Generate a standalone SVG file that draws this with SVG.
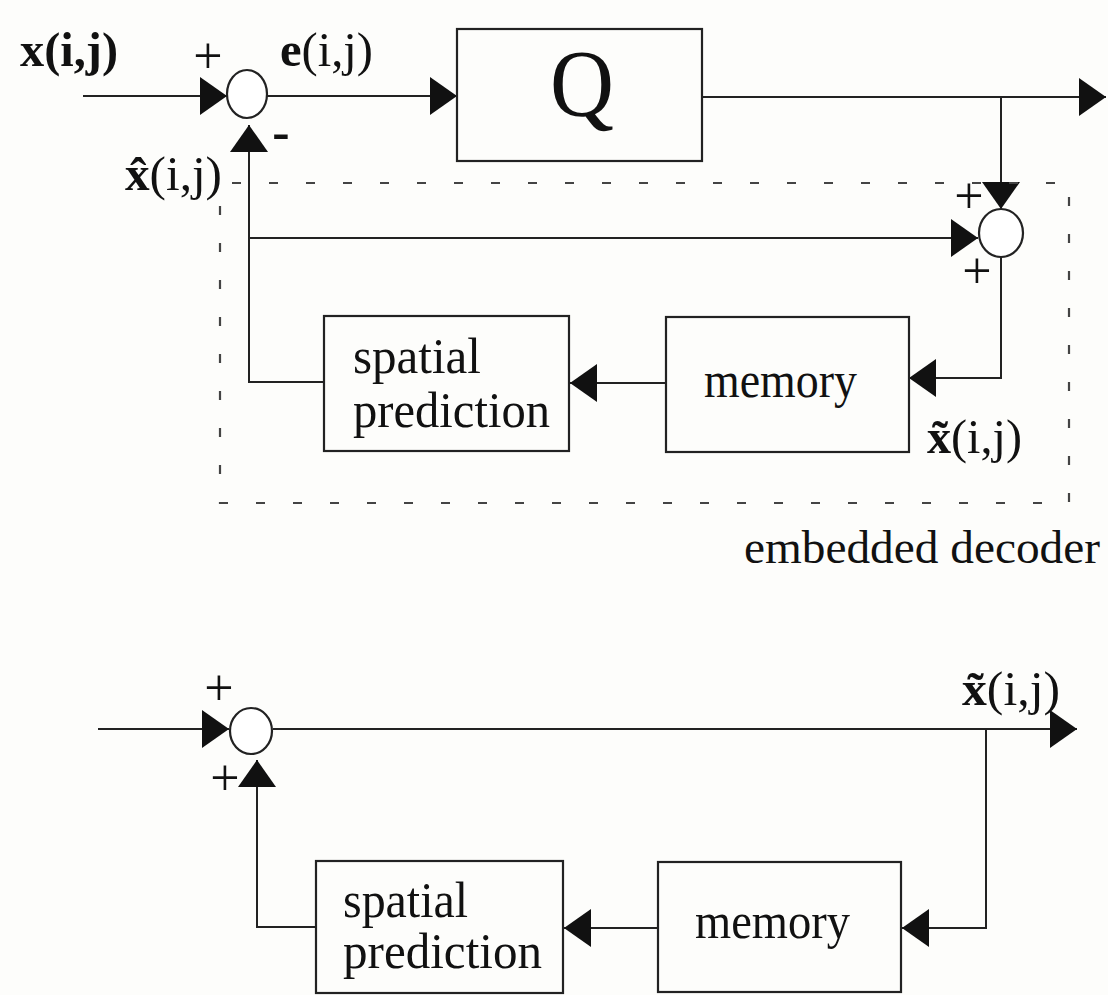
<svg xmlns="http://www.w3.org/2000/svg" width="1108" height="995" viewBox="0 0 1108 995">
<defs>
<marker id="arr" markerUnits="userSpaceOnUse" markerWidth="28" markerHeight="38" refX="27" refY="19" orient="auto" viewBox="0 0 28 38">
<path d="M0,0 L27,19 L0,38 z" fill="#111"/>
</marker>
<style>
.box{fill:none;stroke:#222;stroke-width:2.2}
.sum{fill:#fff;stroke:#222;stroke-width:2.2}
.wire{fill:none;stroke:#222;stroke-width:2;marker-end:url(#arr)}
.dash{fill:none;stroke:#444;stroke-width:2.2;stroke-dasharray:9 28}
.t{font-family:"Liberation Serif","Times New Roman",serif;fill:#111}
.lbl{font-size:48px}
.bx{font-size:50px}
.sg{font-size:52px;text-anchor:middle}
</style>
</defs>
<rect width="1108" height="995" fill="#fdfdfb"/>

<g id="connectors">
<path class="wire" d="M83,96 H227"/>
<path class="wire" d="M267,96 H457"/>
<path class="wire" d="M702,97 H1106"/>
<path class="wire" d="M1001,97 V209"/>
<path class="wire" d="M250,238 H978"/>
<path class="wire" d="M1001,257 V378 H909"/>
<path class="wire" d="M666,383 H570"/>
<path class="wire" d="M324,382 H249 V125"/>
<path class="wire" d="M98,729 H229"/>
<path class="wire" d="M273,729 H1077"/>
<path class="wire" d="M986,729 V928 H902"/>
<path class="wire" d="M658,928 H564"/>
<path class="wire" d="M316,927 H257 V760"/>
</g>

<g id="embedded-decoder">
<path class="dash" d="M232,183 H1069 V503 H220 V200"/>
<text class="t" x="744" y="563" font-size="47" textLength="356" lengthAdjust="spacingAndGlyphs">embedded decoder</text>
</g>

<g id="sum1">
<ellipse class="sum" cx="247" cy="94" rx="20" ry="24"/>
<text class="t sg" x="208" y="73">+</text>
<text class="t sg" x="281" y="149" font-weight="bold">-</text>
</g>

<g id="quantizer">
<rect class="box" x="457" y="29" width="245" height="132"/>
<text class="t" x="582" y="116" font-size="96" text-anchor="middle" textLength="64" lengthAdjust="spacingAndGlyphs">Q</text>
</g>

<g id="sum2">
<ellipse class="sum" cx="1001" cy="233" rx="22" ry="24"/>
<text class="t sg" x="969" y="213">+</text>
<text class="t sg" x="977" y="288">+</text>
</g>

<g id="spatial1">
<rect class="box" x="324" y="316" width="245" height="135"/>
<text class="t bx" x="353" y="373" textLength="128" lengthAdjust="spacingAndGlyphs">spatial</text>
<text class="t bx" x="353" y="427" textLength="197" lengthAdjust="spacingAndGlyphs">prediction</text>
</g>

<g id="memory1">
<rect class="box" x="666" y="317" width="243" height="135"/>
<text class="t bx" x="704" y="397" textLength="153" lengthAdjust="spacingAndGlyphs">memory</text>
</g>

<g id="labels-top">
<text class="t lbl" x="20" y="66" font-weight="bold" textLength="98" lengthAdjust="spacingAndGlyphs">x(i,j)</text>
<text class="t lbl" x="280" y="66" textLength="93" lengthAdjust="spacingAndGlyphs"><tspan font-weight="bold">e</tspan>(i,j)</text>
<text class="t lbl" x="125" y="190" textLength="97" lengthAdjust="spacingAndGlyphs"><tspan font-weight="bold">x̂</tspan>(i,j)</text>
<text class="t lbl" x="927" y="453" textLength="95" lengthAdjust="spacingAndGlyphs"><tspan font-weight="bold">x̃</tspan>(i,j)</text>
</g>

<g id="sum3">
<ellipse class="sum" cx="251" cy="731" rx="21" ry="23"/>
<text class="t sg" x="219" y="705">+</text>
<text class="t sg" x="225" y="795">+</text>
</g>

<g id="spatial2">
<rect class="box" x="316" y="861" width="247" height="132"/>
<text class="t bx" x="343" y="917" textLength="125" lengthAdjust="spacingAndGlyphs">spatial</text>
<text class="t bx" x="343" y="968" textLength="199" lengthAdjust="spacingAndGlyphs">prediction</text>
</g>

<g id="memory2">
<rect class="box" x="658" y="862" width="243" height="130"/>
<text class="t bx" x="695" y="938" textLength="155" lengthAdjust="spacingAndGlyphs">memory</text>
</g>

<g id="labels-bottom">
<text class="t lbl" x="962" y="705" textLength="98" lengthAdjust="spacingAndGlyphs"><tspan font-weight="bold">x̃</tspan>(i,j)</text>
</g>
</svg>
